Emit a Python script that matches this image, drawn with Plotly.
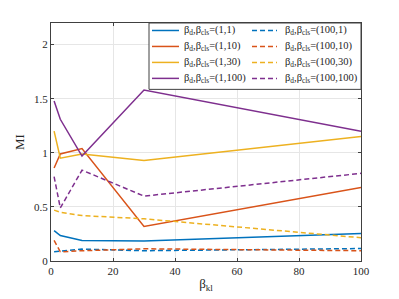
import plotly.graph_objects as go

x_kl = [1, 3, 10, 30, 100]

mi_1_1 = [0.28, 0.235, 0.19, 0.185, 0.255]
mi_1_10 = [0.86, 0.99, 1.04, 0.32, 0.68]
mi_1_30 = [1.20, 0.95, 0.99, 0.93, 1.15]
mi_1_100 = [1.48, 1.31, 0.97, 1.58, 1.20]

mi_100_1 = [0.085, 0.09, 0.11, 0.095, 0.115]
mi_100_10 = [0.19, 0.085, 0.095, 0.113, 0.095]
mi_100_30 = [0.47, 0.45, 0.42, 0.39, 0.215]
mi_100_100 = [0.78, 0.49, 0.84, 0.60, 0.81]

labels_solid = ["(1,1)", "(1,10)", "(1,30)", "(1,100)"]
labels_dash = ["(100,1)", "(100,10)", "(100,30)", "(100,100)"]
colors = ["#0072BD", "#D95319", "#EDB120", "#7E2F8E"]

x_ticks = [0, 20, 40, 60, 80, 100]
y_ticks = [0, 0.5, 1, 1.5, 2]
y_tick_text = ["0", "0.5", "1", "1.5", "2"]

solid_series = [mi_1_1, mi_1_10, mi_1_30, mi_1_100]
dash_series = [mi_100_1, mi_100_10, mi_100_30, mi_100_100]

DASH = "5px,3px"
font_family = "Liberation Serif, Times New Roman, serif"
axis_col = "#404040"
text_col = "#262626"

# page body has an 8px margin; compensate so the plot lands where the reference is
OFF = 8
W, H = 399 - OFF, 299 - OFF
PL, PR, PT, PB = 51, 361, 22.5, 261  # plot area in window pixels
ML, MT = PL - OFF, PT - OFF
MR, MB = W - (PR - OFF), H - (PB - OFF)
PW, PH = PR - PL, PB - PT


def px_x(px):
    return (px - PL) / PW


def px_y(py):
    return (PB - py) / PH


fig = go.Figure()
for vals, lab, col in zip(solid_series, labels_solid, colors):
    fig.add_trace(go.Scatter(x=x_kl, y=vals, mode="lines",
                             line=dict(color=col, width=1.5),
                             name="β<sub>d</sub>,β<sub>cls</sub>=" + lab))
for vals, lab, col in zip(dash_series, labels_dash, colors):
    fig.add_trace(go.Scatter(x=x_kl, y=vals, mode="lines",
                             line=dict(color=col, width=1.5, dash=DASH),
                             name="β<sub>d</sub>,β<sub>cls</sub>=" + lab))

# manual legend (two columns, MATLAB style)
shapes = [dict(type="rect", xref="paper", yref="paper",
               x0=px_x(149), x1=1, y0=px_y(89), y1=1,
               line=dict(color=axis_col, width=1), fillcolor="white",
               layer="above")]
annotations = []
row_y = [30, 46, 62, 78]
cols = [(152, 179, 182, labels_solid, None), (252, 277, 283, labels_dash, DASH)]
for lx0, lx1, tx, labs, dash in cols:
    for ry, lab, col in zip(row_y, labs, colors):
        shapes.append(dict(type="line", xref="paper", yref="paper",
                           x0=px_x(lx0), x1=px_x(lx1), y0=px_y(ry), y1=px_y(ry),
                           line=dict(color=col, width=1.5, dash=dash),
                           layer="above"))
        annotations.append(dict(xref="paper", yref="paper", x=px_x(tx),
                                y=px_y(ry), xanchor="left", yanchor="middle",
                                showarrow=False,
                                text="β<sub>d</sub>,β<sub>cls</sub>=" + lab,
                                font=dict(family=font_family, size=10.5,
                                          color=text_col)))

fig.update_layout(
    width=W, height=H,
    margin=dict(l=ML, r=MR, t=MT, b=MB, autoexpand=False),
    paper_bgcolor="white", plot_bgcolor="white",
    font=dict(family=font_family, size=11, color=text_col),
    showlegend=False,
    xaxis=dict(
        range=[0, 100], tickvals=x_ticks, ticks="inside", ticklen=3,
        tickcolor=axis_col, showline=True, linecolor=axis_col, linewidth=1,
        mirror="ticks", showgrid=True, gridcolor="#e6e6e6", gridwidth=1,
        zeroline=False, tickfont=dict(family=font_family, size=11, color=text_col),
        title=dict(text="β<sub>kl</sub>", font=dict(family=font_family, size=13),
                   standoff=2),
    ),
    yaxis=dict(
        range=[0, 2.2], tickvals=y_ticks, ticktext=y_tick_text, ticks="inside",
        ticklen=3, tickcolor=axis_col, showline=True, linecolor=axis_col,
        linewidth=1, mirror="ticks", showgrid=True, gridcolor="#e6e6e6",
        gridwidth=1, zeroline=False,
        tickfont=dict(family=font_family, size=11, color=text_col),
        title=dict(text="MI", font=dict(family=font_family, size=13), standoff=6),
    ),
    shapes=shapes,
    annotations=annotations,
)

fig.write_html("out.html")
